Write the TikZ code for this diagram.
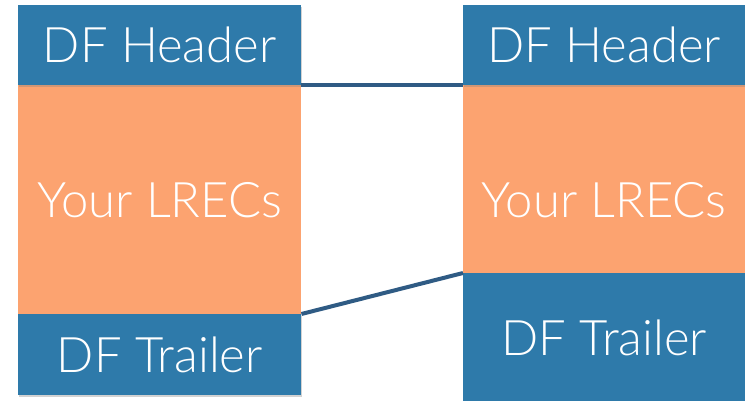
\documentclass[tikz,border=0pt]{standalone}
\usepackage{fontspec}
\setmainfont{Lato}[UprightFont=* Light]
\usetikzlibrary{shadows}
\definecolor{dfblue}{RGB}{46,122,170}
\definecolor{lrecorange}{RGB}{252,163,112}
\definecolor{linkblue}{RGB}{47,91,132}
\tikzset{
  part/.style={rectangle, inner sep=0pt, anchor=north west, text=white,
    font=\fontsize{49}{54}\selectfont},
  hdr/.style={part, fill=dfblue, drop shadow={shadow xshift=1pt, shadow yshift=-2pt, opacity=0.35}},
  body/.style={part, fill=lrecorange},
  link/.style={draw=linkblue, line width=4pt}
}
\begin{document}
\begin{tikzpicture}[x=1pt,y=-1pt]
\path[fill=white] (0,0) rectangle (745,400);
\useasboundingbox (0,0) rectangle (745,400);
% left column
\node[body, minimum width=283pt, minimum height=229pt] (lb) at (18,85) {Your LRECs};
\node[hdr, minimum width=283pt, minimum height=80pt] (lh) at (18,5) {DF Header};
\node[hdr, minimum width=283pt, minimum height=81pt] (lt) at (18,314) {DF Trailer};
% right column
\node[body, minimum width=282pt, minimum height=188pt, text height=77pt, text depth=0pt] (rb) at (463,85) {Your LRECs};
\node[hdr, minimum width=282pt, minimum height=80pt] (rh) at (463,5) {DF Header};
\node[hdr, minimum width=282pt, minimum height=130pt] (rt) at (463,273) {DF Trailer};
% connectors
\draw[link] (lh.south east) -- (rh.south west);
\draw[link] (lt.north east) -- (rt.north west);
\end{tikzpicture}
\end{document}
